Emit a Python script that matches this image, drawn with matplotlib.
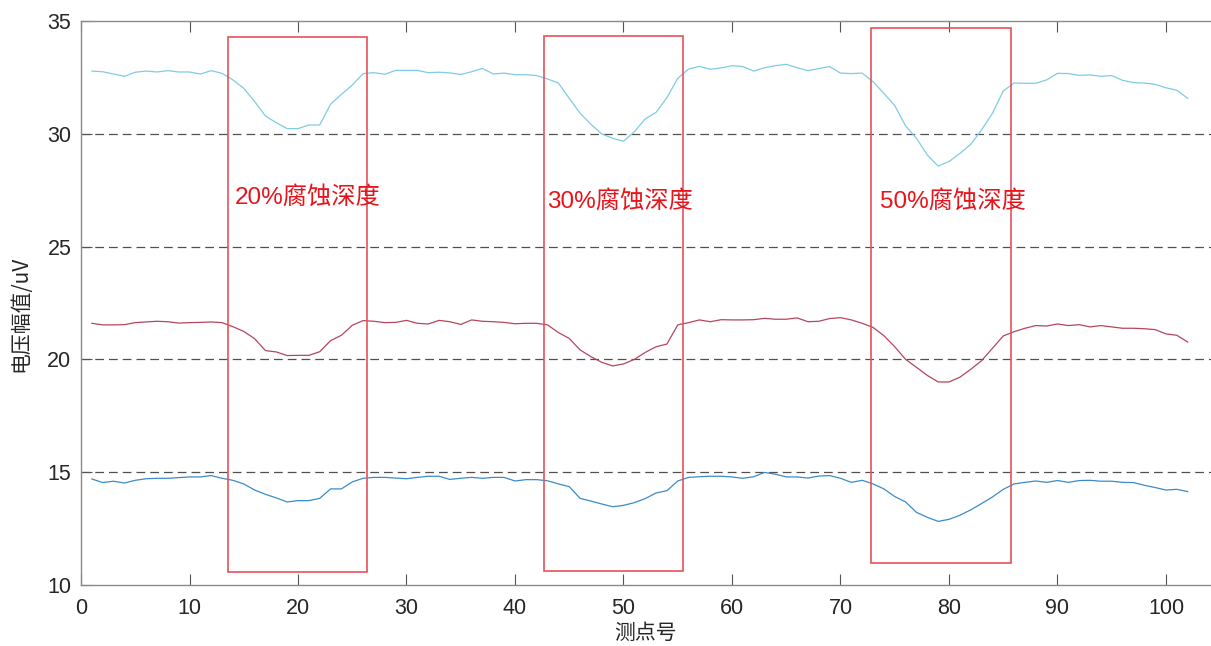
import numpy as np
import matplotlib
matplotlib.use('Agg')
import matplotlib.pyplot as plt
from matplotlib.patches import Rectangle

plt.rcParams['font.family'] = ['Liberation Sans', 'Noto Sans CJK SC', 'DejaVu Sans']

# measuring point index
pts = np.arange(1, 103)

top = [32.78, 32.75, 32.65, 32.55, 32.73, 32.78, 32.74, 32.80, 32.74, 32.74,
       32.65, 32.80, 32.68, 32.39, 32.02, 31.43, 30.79, 30.49, 30.23, 30.23,
       30.39, 30.39, 31.31, 31.75, 32.16, 32.67, 32.71, 32.64, 32.81, 32.81,
       32.81, 32.71, 32.73, 32.70, 32.63, 32.75, 32.90, 32.65, 32.69, 32.62,
       32.62, 32.58, 32.43, 32.25, 31.57, 30.91, 30.42, 29.99, 29.80, 29.67,
       30.09, 30.66, 30.95, 31.60, 32.46, 32.87, 32.99, 32.86, 32.92, 33.02,
       32.98, 32.78, 32.93, 33.02, 33.08, 32.93, 32.80, 32.89, 32.98, 32.69,
       32.67, 32.69, 32.31, 31.79, 31.25, 30.35, 29.80, 29.06, 28.57, 28.77,
       29.13, 29.53, 30.17, 30.91, 31.90, 32.25, 32.24, 32.24, 32.39, 32.68,
       32.67, 32.59, 32.61, 32.55, 32.58, 32.37, 32.27, 32.25, 32.19, 32.04,
       31.93, 31.57]

mid = [21.60, 21.53, 21.53, 21.54, 21.63, 21.66, 21.69, 21.67, 21.61, 21.63,
       21.64, 21.66, 21.63, 21.45, 21.24, 20.92, 20.39, 20.33, 20.17, 20.18,
       20.18, 20.34, 20.83, 21.07, 21.51, 21.72, 21.69, 21.63, 21.64, 21.73,
       21.60, 21.57, 21.73, 21.67, 21.55, 21.75, 21.69, 21.67, 21.64, 21.58,
       21.60, 21.60, 21.53, 21.19, 20.93, 20.42, 20.12, 19.87, 19.71, 19.80,
       20.00, 20.31, 20.56, 20.68, 21.53, 21.63, 21.75, 21.67, 21.76, 21.75,
       21.75, 21.76, 21.82, 21.78, 21.78, 21.84, 21.67, 21.69, 21.81, 21.85,
       21.75, 21.60, 21.42, 21.05, 20.56, 20.00, 19.65, 19.29, 19.00, 19.00,
       19.21, 19.56, 19.94, 20.49, 21.04, 21.23, 21.38, 21.50, 21.48, 21.57,
       21.50, 21.54, 21.44, 21.50, 21.44, 21.38, 21.38, 21.36, 21.32, 21.13,
       21.07, 20.77]

low = [14.70, 14.54, 14.60, 14.52, 14.64, 14.71, 14.73, 14.73, 14.76, 14.79,
       14.79, 14.85, 14.73, 14.64, 14.48, 14.21, 14.02, 13.86, 13.68, 13.74,
       13.74, 13.84, 14.26, 14.26, 14.57, 14.73, 14.77, 14.77, 14.74, 14.71,
       14.77, 14.82, 14.82, 14.68, 14.73, 14.77, 14.73, 14.77, 14.77, 14.61,
       14.67, 14.67, 14.62, 14.48, 14.36, 13.84, 13.72, 13.59, 13.47, 13.53,
       13.65, 13.83, 14.08, 14.18, 14.61, 14.77, 14.80, 14.82, 14.82, 14.79,
       14.73, 14.80, 14.99, 14.91, 14.79, 14.79, 14.74, 14.83, 14.85, 14.73,
       14.55, 14.64, 14.48, 14.26, 13.92, 13.68, 13.22, 13.00, 12.82, 12.91,
       13.09, 13.33, 13.61, 13.90, 14.24, 14.48, 14.55, 14.61, 14.55, 14.63,
       14.55, 14.63, 14.64, 14.60, 14.60, 14.55, 14.54, 14.42, 14.32, 14.21,
       14.24, 14.14]

ref_levels = [30, 25, 20, 15]

# corrosion boxes: x0, x1, y0, y1
box_x0 = [13.58, 42.64, 72.84]
box_x1 = [26.40, 55.45, 85.68]
box_y0 = [10.59, 10.62, 10.99]
box_y1 = [34.28, 34.32, 34.69]
box_text = ['20%腐蚀深度', '30%腐蚀深度', '50%腐蚀深度']
text_x = [14.2, 43.0, 73.6]
text_y = [27.2, 27.0, 27.0]

fig = plt.figure(figsize=(12.11, 6.46), dpi=100)
ax = fig.add_axes([81/1211, 1-585/646, 1-81/1211, (585-21)/646])

for lv in ref_levels:
    ax.axhline(lv, color='#505050', lw=0.9, dashes=(7, 4), zorder=1)

ax.plot(pts, top, color='#7fcbe6', lw=0.9, zorder=3)
ax.plot(pts, mid, color='#b5465e', lw=0.9, zorder=3)
ax.plot(pts, low, color='#3a8cc8', lw=0.9, zorder=3)

for i in range(3):
    ax.add_patch(Rectangle((box_x0[i], box_y0[i]), box_x1[i]-box_x0[i], box_y1[i]-box_y0[i],
                           fill=False, edgecolor='#e8505a', lw=1.2, zorder=4))
    ax.text(text_x[i], text_y[i], box_text[i], color='#e8141c', fontsize=17.5,
            va='center', ha='left', zorder=5)

ax.set_xlim(0, 1130/10.85)
ax.set_ylim(10, 35)
ax.set_xticks(np.arange(0, 101, 10))
ax.set_yticks(np.arange(10, 36, 5))

ax.spines['right'].set_visible(False)
for s in ['left', 'bottom', 'top']:
    ax.spines[s].set_color('#8a8a8a')
    ax.spines[s].set_linewidth(1.0)

ax.tick_params(axis='both', direction='in', length=8, width=0.8, color='#555555',
               labelsize=15.5, labelcolor='#262626')
ax.tick_params(axis='x', top=True, pad=9)
ax.tick_params(axis='y', pad=7)

ax.set_xlabel('测点号', fontsize=15, color='#262626', family=['Noto Sans CJK SC', 'DejaVu Sans'])
ax.set_ylabel('电压幅值/uV', fontsize=15, color='#262626', family=['Noto Sans CJK SC', 'DejaVu Sans'])
ax.xaxis.set_label_coords(0.5, -0.066)
ax.yaxis.set_label_coords(-0.044, 0.48)

fig.savefig('out.png', dpi=100)
